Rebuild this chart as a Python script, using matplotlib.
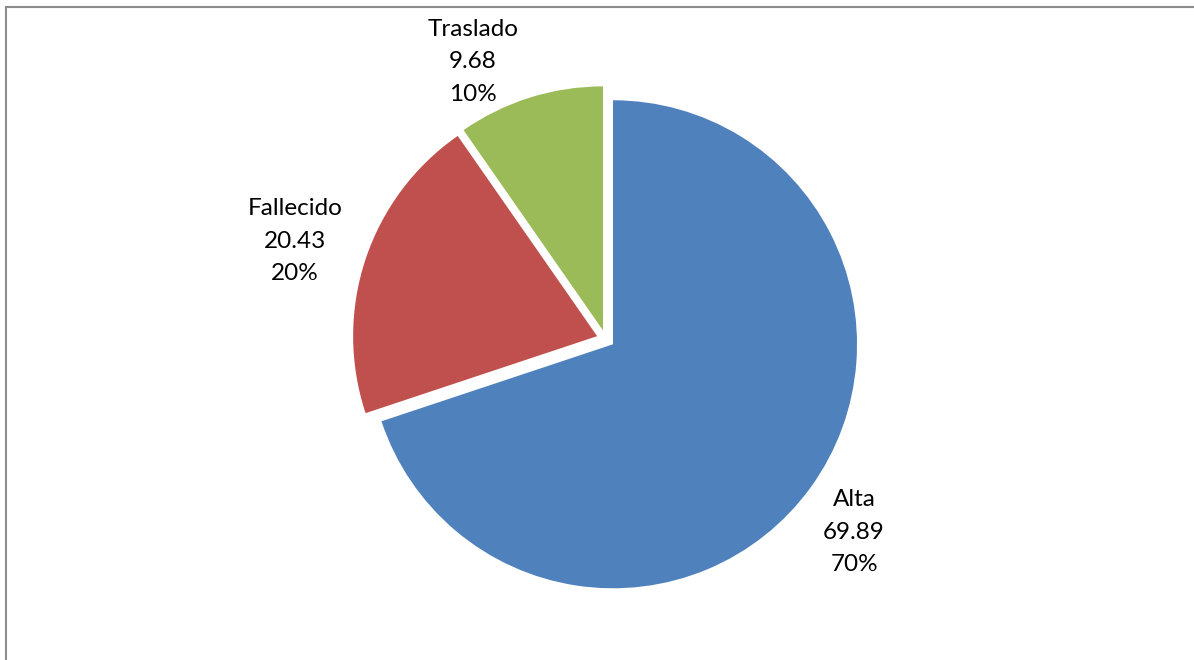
import matplotlib
matplotlib.use("Agg")
import matplotlib.pyplot as plt
from matplotlib.lines import Line2D
import numpy as np

categories = ["Alta", "Fallecido", "Traslado"]
values = [69.89, 20.43, 9.68]
colors = ["#4F81BD", "#C0504D", "#9BBB59"]

W, H, DPI = 1194, 660, 100
fig = plt.figure(figsize=(W / DPI, H / DPI), dpi=DPI)
fig.patch.set_facecolor("white")

# pie centre and radius in pixels
cx, cy, r = 605.7, 339.0, 244.0
ax = fig.add_axes([0, 0, 1, 1])
wedges, _ = ax.pie(values, colors=colors, startangle=90, counterclock=False,
                   explode=[0.037] * len(values), radius=1.0,
                   wedgeprops=dict(linewidth=0))
ax.set_xlim(-cx / r, (W - cx) / r)
ax.set_ylim(-(H - cy) / r, cy / r)
ax.set_aspect("equal", adjustable="box")
ax.axis("off")

# label placement: (angle in degrees, distance in radii)
label_pos = [(-37.9, 1.29), (162.5, 1.335), (115.6, 1.26)]
total = sum(values)
for name, v, (ang, dist) in zip(categories, values, label_pos):
    a = np.deg2rad(ang)
    ax.text(dist * np.cos(a), dist * np.sin(a),
            f"{name}\n{v:.2f}\n{v / total * 100:.0f}%",
            ha="center", va="center", fontsize=17.5, family="Lato",
            linespacing=1.68, color="black")

# chart-area border (top and left edges)
fig.add_artist(Line2D([5.5 / W, 1], [1 - 7 / H, 1 - 7 / H], color="#8c8c8c",
                      lw=1.5, transform=fig.transFigure))
fig.add_artist(Line2D([5.5 / W, 5.5 / W], [0, 1 - 7 / H], color="#8c8c8c",
                      lw=1.5, transform=fig.transFigure))

fig.savefig("out.png", dpi=DPI)
